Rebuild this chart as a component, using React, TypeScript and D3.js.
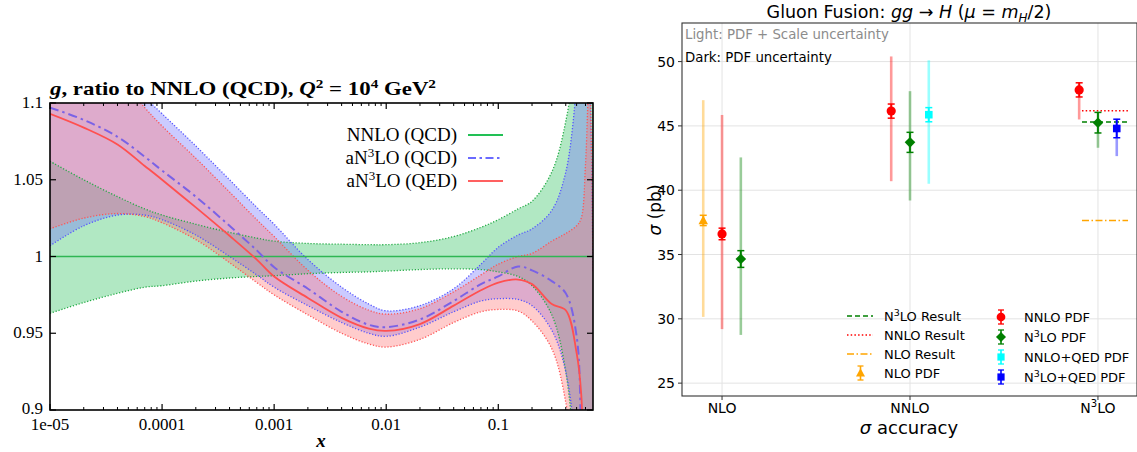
import React from "react";
import * as d3 from "d3";

// ---------------- Left chart data (gluon ratio to NNLO QCD) ----------------
const xGrid = [1e-5, 2e-5, 4e-5, 7e-5, 1e-4, 2e-4, 4e-4, 7e-4, 1e-3, 2e-3, 4e-3, 7e-3, 0.01, 0.02, 0.04, 0.07, 0.1, 0.15, 0.2, 0.3, 0.4, 0.5, 0.55, 0.6, 0.65, 0.7];

const nnloCentral = xGrid.map(() => 1.0);
const nnloUpper = [1.062, 1.05, 1.039, 1.031, 1.027, 1.021, 1.0157, 1.012, 1.01, 1.0085, 1.008, 1.0077, 1.0077, 1.009, 1.013, 1.019, 1.024, 1.031, 1.036, 1.055, 1.088, 1.14, 1.2, 1.3, 1.4, 1.5];
const nnloLower = [0.963, 0.97, 0.976, 0.98, 0.981, 0.984, 0.986, 0.987, 0.9875, 0.9888, 0.9896, 0.99, 0.9905, 0.9915, 0.992, 0.9915, 0.99, 0.987, 0.981, 0.962, 0.925, 0.85, 0.8, 0.7, 0.6, 0.5];

const an3loQcdCentral = [1.097, 1.089, 1.078, 1.065, 1.056, 1.039, 1.02, 1.004, 0.993, 0.979, 0.964, 0.9555, 0.954, 0.959, 0.971, 0.982, 0.987, 0.9935, 0.991, 0.984, 0.976, 0.948, 0.88, 0.8, 0.72, 0.65];
const an3loQcdUpper = [1.17, 1.15, 1.126, 1.104, 1.093, 1.072, 1.05, 1.032, 1.021, 0.998, 0.98, 0.969, 0.9646, 0.968, 0.979, 0.995, 1.006, 1.014, 1.018, 1.03, 1.055, 1.11, 1.14, 1.15, 1.12, 0.99];
const an3loQcdLower = [1.007, 1.02, 1.027, 1.027, 1.024, 1.014, 1.0, 0.988, 0.98, 0.968, 0.957, 0.95, 0.948, 0.954, 0.964, 0.971, 0.9725, 0.972, 0.968, 0.952, 0.925, 0.87, 0.83, 0.75, 0.65, 0.55];

const an3loQedCentral = [1.093, 1.084, 1.073, 1.059, 1.05, 1.032, 1.0135, 0.998, 0.987, 0.973, 0.96, 0.953, 0.9515, 0.956, 0.968, 0.978, 0.983, 0.985, 0.982, 0.969, 0.965, 0.937, 0.91, 0.8, 0.7, 0.6];
const an3loQedUpper = [1.16, 1.14, 1.118, 1.097, 1.085, 1.064, 1.042, 1.024, 1.013, 0.991, 0.974, 0.965, 0.9624, 0.966, 0.977, 0.988, 0.995, 1.0, 1.002, 1.01, 1.015, 1.02, 1.025, 1.06, 1.12, 0.99];
const an3loQedLower = [1.018, 1.025, 1.028, 1.026, 1.022, 1.011, 0.996, 0.983, 0.975, 0.962, 0.95, 0.943, 0.941, 0.946, 0.957, 0.964, 0.9655, 0.9645, 0.958, 0.94, 0.905, 0.84, 0.8, 0.7, 0.6, 0.5];

const leftXTicks = [1e-5, 1e-4, 1e-3, 0.01, 0.1];
const leftXTickLabels = ["1e-05", "0.0001", "0.001", "0.01", "0.1"];
const leftYTicks = [0.9, 0.95, 1.0, 1.05, 1.1];
const leftYTickLabels = ["0.9", "0.95", "1", "1.05", "1.1"];
const leftLegend = ["NNLO (QCD)", "aN^3LO (QCD)", "aN^3LO (QED)"];

// ---------------- Right chart data (ggH cross section) ----------------
const categories = ["NLO", "NNLO", "N^3LO"];
const yTicksRight = [25, 30, 35, 40, 45, 50];

const nloPdfCats = ["NLO"];
const nloPdfVal = [37.65];
const nloPdfErr = [0.4];
const nloPdfLow = [30.15];
const nloPdfHigh = [47.0];

const nnloPdfCats = ["NLO", "NNLO", "N^3LO"];
const nnloPdfVal = [36.6, 46.15, 47.8];
const nnloPdfErr = [0.45, 0.55, 0.55];
const nnloPdfLow = [29.2, 40.7, 45.5];
const nnloPdfHigh = [45.85, 50.4, 48.3];

const n3loPdfCats = ["NLO", "NNLO", "N^3LO"];
const n3loPdfVal = [34.65, 43.72, 45.25];
const n3loPdfErr = [0.65, 0.78, 0.8];
const n3loPdfLow = [28.75, 39.2, 43.3];
const n3loPdfHigh = [42.55, 47.7, 46.05];

const nnloQedPdfCats = ["NNLO"];
const nnloQedPdfVal = [45.87];
const nnloQedPdfErr = [0.55];
const nnloQedPdfLow = [40.5];
const nnloQedPdfHigh = [50.1];

const n3loQedPdfCats = ["N^3LO"];
const n3loQedPdfVal = [44.8];
const n3loQedPdfErr = [0.72];
const n3loQedPdfLow = [42.65];
const n3loQedPdfHigh = [45.55];

const resultNames = ["N^3LO Result", "NNLO Result", "NLO Result"];
const resultValues = [45.3, 46.17, 37.65];

// ---------------- Styles ----------------
const SERIF = "'Liberation Serif', 'Times New Roman', serif";
const SANS = "'DejaVu Sans', sans-serif";

type Series = {
  name: string; cats: string[]; val: number[]; err: number[]; low: number[]; high: number[];
  offsets: number[]; color: string; marker: string;
};

const pdfSeries: Series[] = [
  { name: "NLO PDF", cats: nloPdfCats, val: nloPdfVal, err: nloPdfErr, low: nloPdfLow, high: nloPdfHigh, offsets: [-0.1], color: "#ffa500", marker: "triangle" },
  { name: "NNLO PDF", cats: nnloPdfCats, val: nnloPdfVal, err: nnloPdfErr, low: nnloPdfLow, high: nnloPdfHigh, offsets: [0, -0.1, -0.1], color: "#ff0000", marker: "circle" },
  { name: "N^3LO PDF", cats: n3loPdfCats, val: n3loPdfVal, err: n3loPdfErr, low: n3loPdfLow, high: n3loPdfHigh, offsets: [0.1, 0, 0], color: "#008000", marker: "diamond" },
  { name: "NNLO+QED PDF", cats: nnloQedPdfCats, val: nnloQedPdfVal, err: nnloQedPdfErr, low: nnloQedPdfLow, high: nnloQedPdfHigh, offsets: [0.1], color: "#00ffff", marker: "square" },
  { name: "N^3LO+QED PDF", cats: n3loQedPdfCats, val: n3loQedPdfVal, err: n3loQedPdfErr, low: n3loQedPdfLow, high: n3loQedPdfHigh, offsets: [0.1], color: "#0000ff", marker: "square" },
];
const resultStyles = [
  { color: "#008000", dash: "5 3" },
  { color: "#ff0000", dash: "1.5 2.2" },
  { color: "#ffa500", dash: "7 2.5 1.5 2.5" },
];
const resultExtent = [1.915, 2.16];

function Sup({ label, supSize, dy }: { label: string; supSize: number; dy: number }) {
  const parts = label.split("^");
  if (parts.length === 1) return <>{label}</>;
  const sup = parts[1].charAt(0);
  const rest = parts[1].slice(1);
  return (
    <>
      <tspan>{parts[0]}</tspan>
      <tspan dy={-dy} fontSize={supSize}>{sup}</tspan>
      <tspan dy={dy}>{rest}</tspan>
    </>
  );
}

function Marker({ type, x, y, color, s = 1 }: { type: string; x: number; y: number; color: string; s?: number }) {
  if (type === "circle") return <circle cx={x} cy={y} r={4.6 * s} fill={color} />;
  if (type === "square") return <rect x={x - 3.8 * s} y={y - 3.8 * s} width={7.6 * s} height={7.6 * s} fill={color} />;
  if (type === "diamond") {
    const r = 5.3 * s;
    return <path d={`M${x},${y - r}L${x + r},${y}L${x},${y + r}L${x - r},${y}Z`} fill={color} />;
  }
  const r = 5 * s;
  return <path d={`M${x},${y - r}L${x + r * 0.95},${y + r * 0.75}L${x - r * 0.95},${y + r * 0.75}Z`} fill={color} />;
}

function LeftChart() {
  const xL = d3.scaleLog().domain([1e-5, 0.7]).range([50, 593]);
  const yL = d3.scaleLinear().domain([0.9, 1.1]).range([410, 103]);
  const curve = d3.curveCatmullRom.alpha(0.5);
  const area = (lo: number[], hi: number[]) =>
    d3.area<number>().x((d) => xL(d)).y0((_, i) => yL(lo[i])).y1((_, i) => yL(hi[i])).curve(curve)(xGrid) || "";
  const line = (v: number[]) =>
    d3.line<number>().x((d) => xL(d)).y((_, i) => yL(v[i])).curve(curve)(xGrid) || "";

  const minor: number[] = [];
  for (let e = -5; e <= -1; e++) for (let m = 2; m <= 9; m++) { const v = m * Math.pow(10, e); if (v <= 0.7) minor.push(v); }
  const [x0, x1] = xL.range();
  const [yb, yt] = yL.range();

  const bands = [
    { lo: nnloLower, hi: nnloUpper, fill: "rgb(40,190,90)", stroke: "#22aa44" },
    { lo: an3loQcdLower, hi: an3loQcdUpper, fill: "rgb(110,110,255)", stroke: "#5555ff" },
    { lo: an3loQedLower, hi: an3loQedUpper, fill: "rgb(255,115,115)", stroke: "#ff5555" },
  ];

  return (
    <g>
      <defs>
        <clipPath id="clipL"><rect x={x0} y={yt} width={x1 - x0} height={yb - yt} /></clipPath>
      </defs>
      <g clipPath="url(#clipL)">
        {bands.map((b, i) => <path key={"a" + i} d={area(b.lo, b.hi)} fill={b.fill} fillOpacity={0.36} />)}
        {bands.map((b, i) => (
          <g key={"b" + i}>
            <path d={line(b.lo)} fill="none" stroke={b.stroke} strokeWidth={1.3} strokeDasharray="1.2 1.8" />
            <path d={line(b.hi)} fill="none" stroke={b.stroke} strokeWidth={1.3} strokeDasharray="1.2 1.8" />
          </g>
        ))}
        <path d={line(nnloCentral)} fill="none" stroke="#2fb653" strokeWidth={1.6} />
        <path d={line(an3loQcdCentral)} fill="none" stroke="#7a62e6" strokeWidth={2} strokeDasharray="9 4 2.5 4" />
        <path d={line(an3loQedCentral)} fill="none" stroke="#ff5050" strokeWidth={1.8} />
      </g>
      <rect x={x0} y={yt} width={x1 - x0} height={yb - yt} fill="none" stroke="#000" strokeWidth={1.6} />
      {leftXTicks.map((t) => (
        <g key={"xt" + t}>
          <line x1={xL(t)} x2={xL(t)} y1={yb} y2={yb - 6} stroke="#000" strokeWidth={1.2} />
          <line x1={xL(t)} x2={xL(t)} y1={yt} y2={yt + 6} stroke="#000" strokeWidth={1.2} />
        </g>
      ))}
      {minor.map((t) => (
        <g key={"mt" + t}>
          <line x1={xL(t)} x2={xL(t)} y1={yb} y2={yb - 3} stroke="#000" strokeWidth={1} />
          <line x1={xL(t)} x2={xL(t)} y1={yt} y2={yt + 3} stroke="#000" strokeWidth={1} />
        </g>
      ))}
      {leftYTicks.map((t) => (
        <g key={"yt" + t}>
          <line x1={x0} x2={x0 + 6} y1={yL(t)} y2={yL(t)} stroke="#000" strokeWidth={1.2} />
          <line x1={x1} x2={x1 - 6} y1={yL(t)} y2={yL(t)} stroke="#000" strokeWidth={1.2} />
        </g>
      ))}
      <g fontFamily={SERIF} fontSize={17} fill="#000">
        {leftYTicks.map((t, i) => (
          <text key={"yl" + t} x={43} y={yL(t) + (t === 0.9 ? 4 : 5)} textAnchor="end">{leftYTickLabels[i]}</text>
        ))}
        {leftXTicks.map((t, i) => (
          <text key={"xl" + t} x={xL(t)} y={430} textAnchor="middle">{leftXTickLabels[i]}</text>
        ))}
      </g>
      <text x={321} y={447} fontFamily={SERIF} fontSize={19} fontWeight="bold" fontStyle="italic" textAnchor="middle">x</text>
      <text x={50} y={95} fontFamily={SERIF} fontSize={19.5} fontWeight="bold" textLength={386} lengthAdjust="spacingAndGlyphs">
        <tspan fontStyle="italic">g</tspan>
        <tspan>{", ratio to NNLO (QCD), "}</tspan>
        <tspan fontStyle="italic">Q</tspan>
        <tspan dy={-7} fontSize={13}>2</tspan>
        <tspan dy={7}>{" = 10"}</tspan>
        <tspan dy={-7} fontSize={13}>4</tspan>
        <tspan dy={7}>{" GeV"}</tspan>
        <tspan dy={-7} fontSize={13}>2</tspan>
      </text>
      <g fontFamily={SERIF} fontSize={19}>
        {leftLegend.map((l, i) => (
          <text key={l} x={457} y={141 + i * 23} textAnchor="end"><Sup label={l} supSize={13} dy={7} /></text>
        ))}
        <line x1={468} x2={503} y1={135} y2={135} stroke="#22c055" strokeWidth={1.8} />
        <line x1={468} x2={503} y1={158} y2={158} stroke="#6a6aff" strokeWidth={2} strokeDasharray="8 3.5 2.5 3.5" />
        <line x1={468} x2={503} y1={181} y2={181} stroke="#ff6060" strokeWidth={1.8} />
      </g>
    </g>
  );
}

function RightChart() {
  const xR = d3.scaleLinear().domain([-0.213, 2.213]).range([682, 1138]);
  const yR = d3.scaleLinear().domain([24, 53]).range([396, 23]);
  const [l, r] = xR.range();
  const [b, t] = yR.range();
  const catIndex = (c: string) => categories.indexOf(c);

  return (
    <g>
      <defs>
        <clipPath id="clipR"><rect x={l} y={t} width={r - l} height={b - t} /></clipPath>
      </defs>
      {yTicksRight.map((v) => (
        <line key={"gy" + v} x1={l} x2={r} y1={yR(v)} y2={yR(v)} stroke="#e3e3e3" strokeWidth={1} />
      ))}
      {categories.map((c, i) => (
        <line key={"gx" + c} x1={xR(i)} x2={xR(i)} y1={t} y2={b} stroke="#e3e3e3" strokeWidth={1} />
      ))}
      <g clipPath="url(#clipR)">
        {resultValues.map((v, i) => (
          <line key={"res" + i} x1={xR(resultExtent[0])} x2={xR(resultExtent[1])} y1={yR(v)} y2={yR(v)}
            stroke={resultStyles[i].color} strokeWidth={1.5} strokeDasharray={resultStyles[i].dash} />
        ))}
        {pdfSeries.map((s) => s.cats.map((c, j) => {
          const x = xR(catIndex(c) + s.offsets[j]);
          return <line key={s.name + "L" + c} x1={x} x2={x} y1={yR(s.low[j])} y2={yR(s.high[j])} stroke={s.color} strokeOpacity={0.4} strokeWidth={2.6} />;
        }))}
        {pdfSeries.map((s) => s.cats.map((c, j) => {
          const x = xR(catIndex(c) + s.offsets[j]);
          const y1 = yR(s.val[j] - s.err[j]);
          const y2 = yR(s.val[j] + s.err[j]);
          return (
            <g key={s.name + "D" + c}>
              <line x1={x} x2={x} y1={y1} y2={y2} stroke={s.color} strokeWidth={1.8} />
              <line x1={x - 3.5} x2={x + 3.5} y1={y1} y2={y1} stroke={s.color} strokeWidth={1.5} />
              <line x1={x - 3.5} x2={x + 3.5} y1={y2} y2={y2} stroke={s.color} strokeWidth={1.5} />
              <Marker type={s.marker} x={x} y={yR(s.val[j])} color={s.color} />
            </g>
          );
        }))}
      </g>
      <rect x={l} y={t} width={r - l - 1} height={b - t} fill="none" stroke="#333" strokeWidth={1.1} />
      <g fontFamily={SANS} fontSize={14} fill="#000">
        {yTicksRight.map((v) => (
          <g key={"ty" + v}>
            <line x1={l - 4} x2={l} y1={yR(v)} y2={yR(v)} stroke="#333" strokeWidth={1} />
            <text x={l - 7} y={yR(v) + 5} textAnchor="end">{v}</text>
          </g>
        ))}
        {categories.map((c, i) => (
          <g key={"tx" + c}>
            <line x1={xR(i)} x2={xR(i)} y1={b} y2={b + 4} stroke="#333" strokeWidth={1} />
            <text x={xR(i)} y={413} textAnchor="middle"><Sup label={c} supSize={10} dy={6} /></text>
          </g>
        ))}
      </g>
      <text x={909} y={18} textAnchor="middle" fontFamily={SANS} fontSize={17.5}>
        <tspan>{"Gluon Fusion: "}</tspan>
        <tspan fontStyle="italic">gg</tspan>
        <tspan>{" → "}</tspan>
        <tspan fontStyle="italic">H</tspan>
        <tspan>{" ("}</tspan>
        <tspan fontStyle="italic">μ</tspan>
        <tspan>{" = "}</tspan>
        <tspan fontStyle="italic">m</tspan>
        <tspan fontStyle="italic" fontSize={12} dy={4}>H</tspan>
        <tspan dy={-4}>{"/2)"}</tspan>
      </text>
      <text x={685} y={39} fontFamily={SANS} fontSize={13.3} fill="#8c8c8c">Light: PDF + Scale uncertainty</text>
      <text x={685} y={62} fontFamily={SANS} fontSize={13.3} fill="#000">Dark: PDF uncertainty</text>
      <text transform="translate(661,210) rotate(-90)" textAnchor="middle" fontFamily={SANS} fontSize={17}>
        <tspan fontStyle="italic">σ</tspan><tspan>{" (pb)"}</tspan>
      </text>
      <text x={909} y={434} textAnchor="middle" fontFamily={SANS} fontSize={18}>
        <tspan fontStyle="italic">σ</tspan><tspan>{" accuracy"}</tspan>
      </text>
      <g fontFamily={SANS} fontSize={13}>
        {resultNames.map((n, i) => (
          <g key={n}>
            <line x1={847} x2={873} y1={316 + i * 19} y2={316 + i * 19} stroke={resultStyles[i].color} strokeWidth={1.5} strokeDasharray={resultStyles[i].dash} />
            <text x={884} y={321 + i * 19}><Sup label={n} supSize={9.5} dy={5} /></text>
          </g>
        ))}
        {pdfSeries.map((s, i) => {
          const col = i === 0 ? 0 : 1;
          const row = i === 0 ? 3 : i - 1;
          const mx = col === 0 ? 860.5 : 1001;
          const tx = col === 0 ? 884 : 1024;
          const my = col === 0 ? 373 : 317 + row * 20;
          return (
            <g key={"lg" + s.name}>
              <line x1={mx} x2={mx} y1={my - 7} y2={my + 7} stroke={s.color} strokeWidth={1.6} />
              <line x1={mx - 3} x2={mx + 3} y1={my - 7} y2={my - 7} stroke={s.color} strokeWidth={1.3} />
              <line x1={mx - 3} x2={mx + 3} y1={my + 7} y2={my + 7} stroke={s.color} strokeWidth={1.3} />
              <Marker type={s.marker} x={mx} y={my} color={s.color} s={0.95} />
              <text x={tx} y={my + 5}><Sup label={s.name} supSize={9.5} dy={5} /></text>
            </g>
          );
        })}
      </g>
    </g>
  );
}

export default function App() {
  return (
    <div style={{ position: "absolute", left: 0, top: 0, width: 1137, height: 452, background: "#fff" }}>
      <svg width={1137} height={452} viewBox="0 0 1137 452" style={{ display: "block" }}>
        <rect width={1137} height={452} fill="#fff" />
        <LeftChart />
        <RightChart />
      </svg>
    </div>
  );
}
